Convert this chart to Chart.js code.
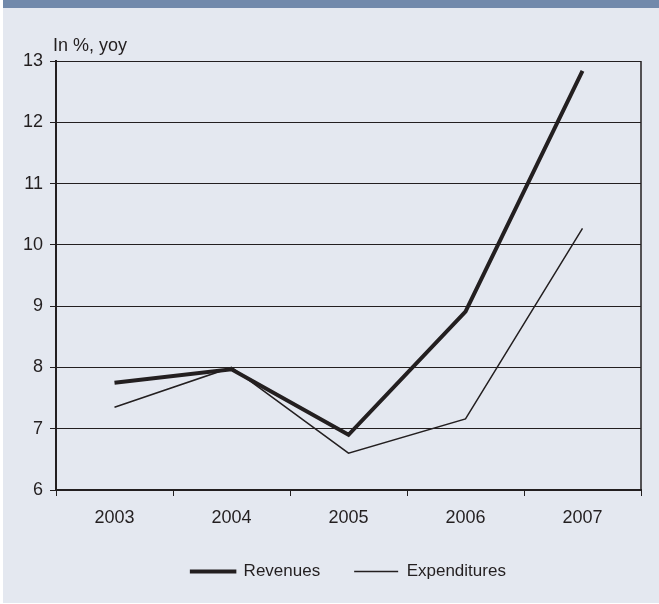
<!DOCTYPE html>
<html>
<head>
<meta charset="utf-8">
<script src="https://cdn.jsdelivr.net/npm/chart.js@4/dist/chart.umd.min.js"></script>
<style>
    html, body { margin: 0; padding: 0; background: #ffffff; }
    #panel { position: absolute; left: 3px; top: 0; width: 656px; height: 603px; background: #e4e8f0; }
    #band { position: absolute; left: 3px; top: 0; width: 656px; height: 8px; background: #7189ab; }
    #FiscalGraph { position: absolute; left: 0; top: 0; }
</style>
</head>
<body>
<div id="panel"></div>
<div id="band"></div>
<canvas id="FiscalGraph" width="659" height="604"></canvas>
<script>
const years = ["2003", "2004", "2005", "2006", "2007"];
const revenues = [7.75, 7.97, 6.9, 8.91, 12.84];
const expenditures = [7.35, 8.0, 6.6, 7.16, 10.27];
const unitLabel = "In %, yoy";

const ink = "#231f20";
const font = { family: "'Liberation Sans', Arial, sans-serif", size: 18 };

// box frame on the right side + the unit label above the y axis
const frame = {
    id: "frame",
    afterDraw(chart) {
        const ctx = chart.ctx;
        const area = chart.chartArea;
        ctx.save();
        ctx.strokeStyle = ink;
        ctx.lineWidth = 1.5;
        ctx.beginPath();
        ctx.moveTo(area.right, area.top);
        ctx.lineTo(area.right, area.bottom);
        ctx.stroke();
        ctx.fillStyle = ink;
        ctx.font = "18px " + font.family;
        ctx.textBaseline = "alphabetic";
        ctx.textAlign = "left";
        ctx.fillText(unitLabel, area.left - 3, area.top - 10);
        ctx.restore();
    }
};

Chart.defaults.font = font;
Chart.defaults.color = ink;

new Chart(document.getElementById("FiscalGraph").getContext("2d"), {
    type: "line",
    data: {
        labels: years,
        datasets: [
            {
                label: "Revenues",
                data: revenues,
                borderColor: ink,
                backgroundColor: ink,
                borderWidth: 4,
                pointRadius: 0,
                tension: 0
            },
            {
                label: "Expenditures",
                data: expenditures,
                borderColor: ink,
                backgroundColor: ink,
                borderWidth: 1.5,
                pointRadius: 0,
                tension: 0
            }
        ]
    },
    options: {
        responsive: false,
        animation: false,
        devicePixelRatio: 1,
        layout: { padding: { left: 6, right: 18, top: 61, bottom: 14 } },
        plugins: {
            tooltip: { enabled: false },
            legend: {
                position: "bottom",
                fullSize: false,
                labels: {
                    boxWidth: 44,
                    boxHeight: 1.5,
                    padding: 34,
                    color: ink,
                    font: { size: 17 },
                    generateLabels: chart => chart.data.datasets.map((ds, i) => ({
                        text: ds.label,
                        fillStyle: ink,
                        strokeStyle: ink,
                        lineWidth: i === 0 ? 2.5 : 0,
                        fontColor: ink,
                        datasetIndex: i
                    }))
                }
            }
        },
        scales: {
            x: {
                offset: true,
                grid: { offset: true, drawOnChartArea: false, drawTicks: true, tickLength: 6, color: ink, lineWidth: 1 },
                border: { color: ink, width: 2 },
                ticks: { padding: 11, color: ink, maxRotation: 0 },
                afterFit: scale => { scale.height = 39; }
            },
            y: {
                min: 6,
                max: 13,
                grid: { color: ink, lineWidth: 1, tickLength: 6 },
                border: { color: ink, width: 2 },
                ticks: { stepSize: 1, padding: 7, color: ink },
                afterFit: scale => { scale.width = 50; }
            }
        }
    },
    plugins: [frame]
});
</script>
</body>
</html>
